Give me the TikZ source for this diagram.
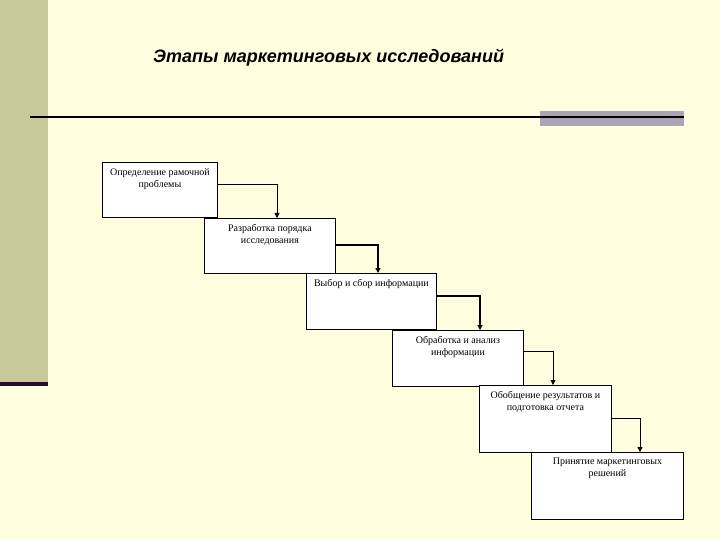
\documentclass[tikz,border=0pt]{standalone}
\usepackage{fontspec}
\setmainfont{Liberation Serif}
\newfontfamily\titlefont{Liberation Sans}
\usetikzlibrary{arrows.meta}
\definecolor{bgc}{RGB}{255,255,224}
\definecolor{olivebar}{RGB}{200,200,152}
\definecolor{graybar}{RGB}{170,164,180}
\definecolor{darkln}{RGB}{40,10,40}
\tikzset{
  stepbox/.style={draw=black, line width=0.9pt, fill=white, inner sep=0pt},
  steptext/.style={anchor=north, font=\fontsize{10}{12}\selectfont, align=center, inner sep=0pt},
  conn/.style={line width=0.8pt, -{Triangle[length=5pt,width=5pt]}},
  connb/.style={line width=1.4pt, -{Triangle[length=5pt,width=5pt]}}
}
\begin{document}
\begin{tikzpicture}[x=1pt,y=-1pt]
\useasboundingbox (0,0) rectangle (720,540);
\fill[bgc] (0,0) rectangle (720,540);
\fill[olivebar] (0,0) rectangle (48,382);
\fill[darkln] (0,382) rectangle (48,386);
\node[anchor=base west, inner sep=0pt, font=\titlefont\bfseries\itshape\fontsize{18}{21}\selectfont] (title) at (153,63) {Этапы маркетинговых исследований};
\fill[graybar] (540,111) rectangle (684,126);
\draw[line width=2pt, black] (30,117.5) -- (684,117.5);
% boxes
\node[stepbox, anchor=north west, minimum width=115pt, minimum height=55pt] (b1) at (102,162) {};
\node[stepbox, anchor=north west, minimum width=131pt, minimum height=55pt] (b2) at (204,218) {};
\node[stepbox, anchor=north west, minimum width=130pt, minimum height=56pt] (b3) at (306,273) {};
\node[stepbox, anchor=north west, minimum width=131pt, minimum height=56pt] (b4) at (392,330) {};
\node[stepbox, anchor=north west, minimum width=132pt, minimum height=67pt] (b5) at (479,385) {};
\node[stepbox, anchor=north west, minimum width=152pt, minimum height=67pt] (b6) at (531,452) {};
% texts
\node[steptext] (t1) at ([yshift=-6pt]b1.north) {Определение рамочной\\проблемы};
\node[steptext] (t2) at ([yshift=-6pt]b2.north) {Разработка порядка\\исследования};
\node[steptext] (t3) at ([yshift=-6pt]b3.north) {Выбор и сбор информации};
\node[steptext] (t4) at ([yshift=-6pt]b4.north) {Обработка и анализ\\информации};
\node[steptext] (t5) at ([yshift=-6pt]b5.north) {Обобщение результатов и\\подготовка отчета};
\node[steptext] (t6) at ([yshift=-6pt]b6.north) {Принятие маркетинговых\\решений};
% connectors
\draw[conn] (b1.east |- 0,184) -| (b2.north -| 277,0);
\draw[connb] (b2.east |- 0,245) -| (b3.north -| 378,0);
\draw[connb] (b3.east |- 0,296) -| (b4.north -| 480,0);
\draw[conn] (b4.east |- 0,351) -| (b5.north -| 553,0);
\draw[conn] (b5.east |- 0,418) -| (b6.north -| 640,0);
\end{tikzpicture}
\end{document}
